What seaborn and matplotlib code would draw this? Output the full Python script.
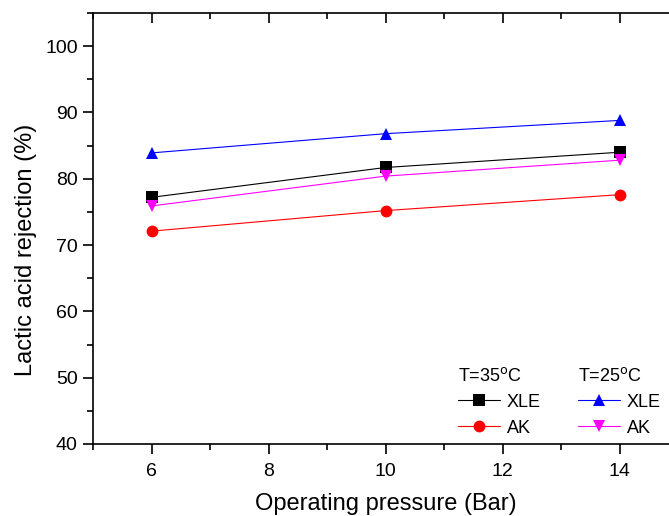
import numpy as np
import pandas as pd
import matplotlib
matplotlib.use('Agg')
import matplotlib.pyplot as plt
from matplotlib.ticker import MultipleLocator
import seaborn as sns

sns.set_style("white")
plt.rcParams['font.family'] = ['Liberation Sans', 'DejaVu Sans']
plt.rcParams['text.color'] = 'black'
plt.rcParams['axes.labelcolor'] = 'black'
plt.rcParams['xtick.color'] = 'black'
plt.rcParams['ytick.color'] = 'black'

# operating pressure (Bar)
pressure = [6, 10, 14]
# lactic acid rejection (%)
xle_35 = [77.2, 81.7, 84.0]
ak_35 = [72.1, 75.2, 77.6]
xle_25 = [83.9, 86.8, 88.8]
ak_25 = [75.9, 80.4, 82.8]

fig = plt.figure(figsize=(6.69, 5.16), dpi=100)
# axes run past the right edge, as in the original (cropped) figure
ax = fig.add_axes([93 / 669, 72 / 516, 585 / 669, 431 / 516])

series = [
    ('XLE', xle_35, 'black', 's'),
    ('AK', ak_35, 'red', 'o'),
    ('XLE', xle_25, 'blue', '^'),
    ('AK', ak_25, 'magenta', 'v'),
]
lines = []
for name, vals, col, mk in series:
    df = pd.DataFrame({'pressure': pressure, 'rejection': vals})
    sns.lineplot(data=df, x='pressure', y='rejection', color=col, marker=mk,
                 markersize=8.5, markeredgewidth=0, linewidth=0.8, ax=ax)
    lines.append(ax.get_lines()[-1])

ax.set_xlim(5, 15)
ax.set_ylim(40, 105)
ax.xaxis.set_major_locator(MultipleLocator(2))
ax.xaxis.set_minor_locator(MultipleLocator(1))
ax.yaxis.set_minor_locator(MultipleLocator(5))
ax.set_yticks([40, 50, 60, 70, 80, 90, 100])

for s in ax.spines.values():
    s.set_color('black')
    s.set_linewidth(1.2)

ax.tick_params(axis='x', which='both', bottom=True, top=True, direction='out',
               labelsize=14, pad=7)
ax.tick_params(axis='y', which='both', left=True, direction='out',
               labelsize=14, pad=4)
ax.tick_params(which='major', length=7, width=1.2)
ax.tick_params(which='minor', length=4, width=1.2)
# top ticks point into the plot
for t in ax.xaxis.get_major_ticks() + ax.xaxis.get_minor_ticks():
    t.tick2line.set_marker(matplotlib.lines.TICKDOWN)

ax.set_xlabel('Operating pressure (Bar)', fontsize=17, labelpad=9)
ax.set_ylabel('Lactic acid rejection (%)', fontsize=17)
ax.yaxis.set_label_coords(-0.095, 0.45)

leg_kw = dict(frameon=False, fontsize=13, title_fontsize=13, handlelength=2.3,
              handletextpad=0.4, labelspacing=0.5, borderpad=0, alignment='left',
              loc='lower left')
leg1 = ax.legend(lines[:2], ['XLE', 'AK'], title='T=35$^{\\rm o}$C',
                 bbox_to_anchor=((449 - 93) / 585, -0.004), **leg_kw)
ax.add_artist(leg1)
ax.legend(lines[2:], ['XLE', 'AK'], title='T=25$^{\\rm o}$C',
          bbox_to_anchor=((569 - 93) / 585, -0.004), **leg_kw)

fig.savefig('out.png', dpi=100)
